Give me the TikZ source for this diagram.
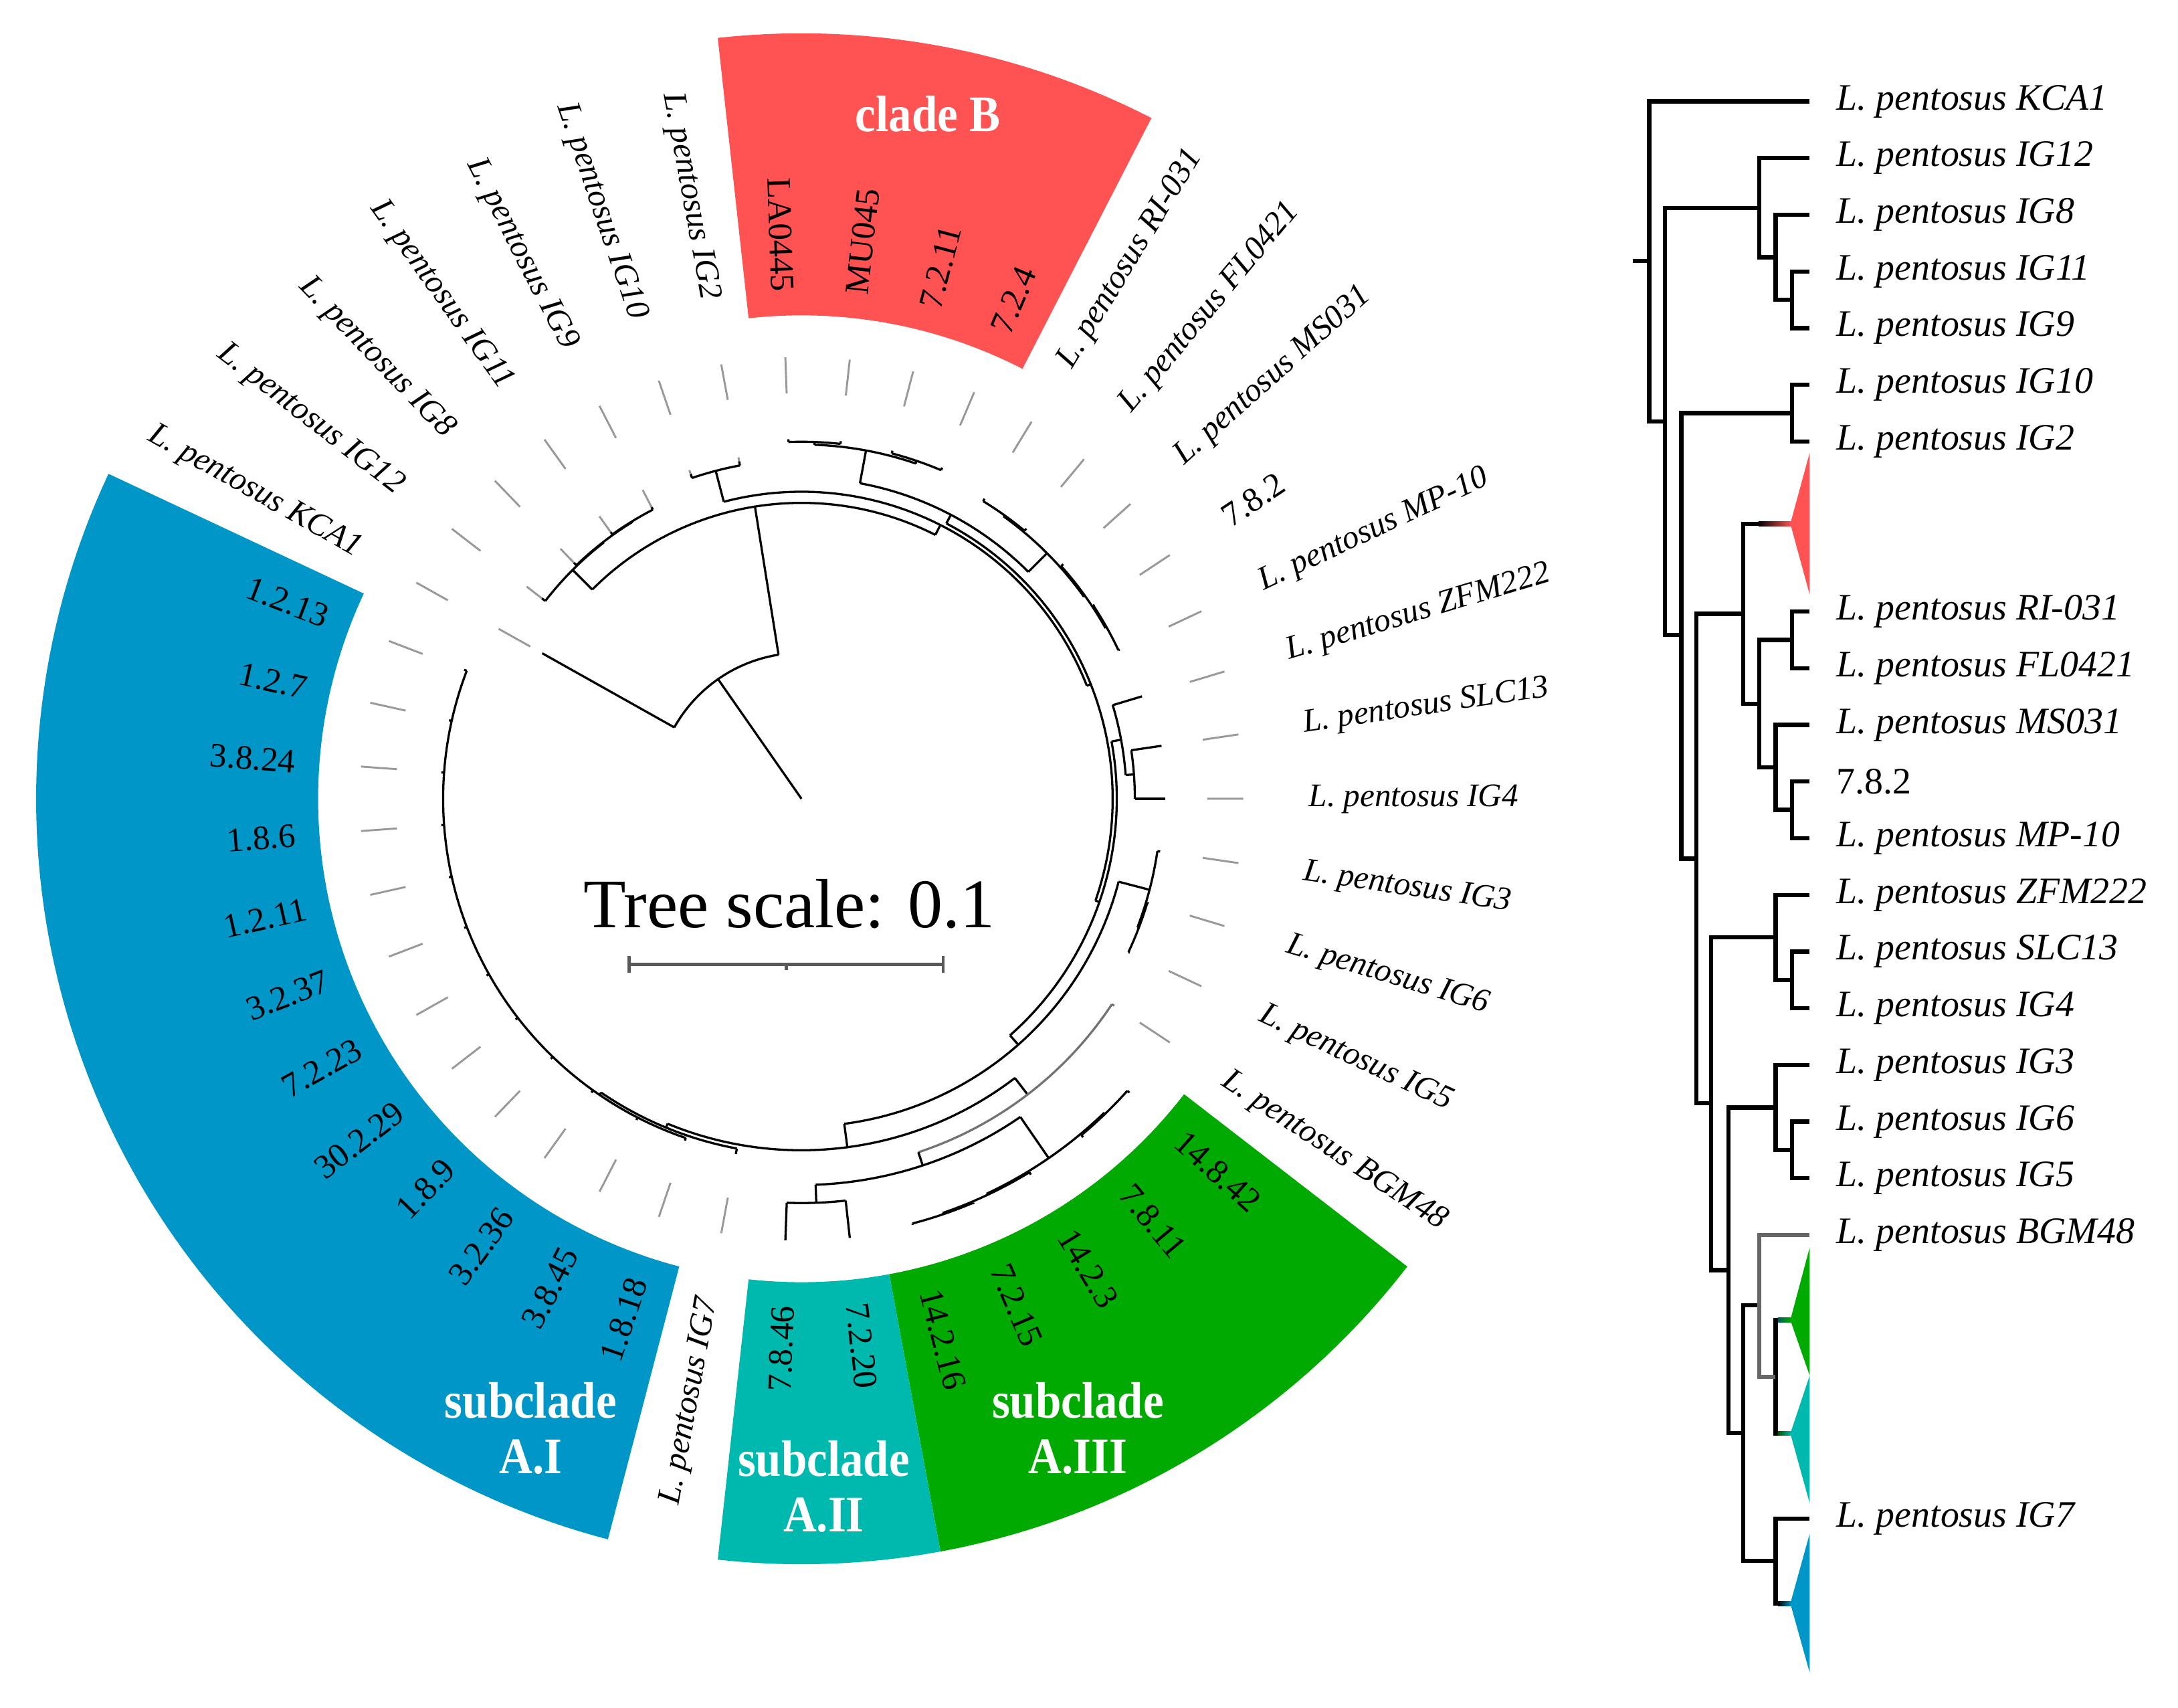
\documentclass[tikz,border=0pt]{standalone}
\usepackage{fontspec}
\setmainfont{Liberation Serif}
\usepackage{graphicx}
\usetikzlibrary{positioning}
\definecolor{cladeBred}{RGB}{255, 82, 82}
\definecolor{subAIblue}{RGB}{0, 150, 199}
\definecolor{subAIIteal}{RGB}{0, 185, 174}
\definecolor{subAIIIgreen}{RGB}{0, 170, 0}

% polar helpers: angle, r from, r to / start angle, end angle, radius
\newcommand{\trbr}[4][branch]{\draw[#1] (#2:#3) -- (#2:#4);}
\newcommand{\trarc}[4][branch]{\draw[#1] (#2:#4) arc[start angle=#2, end angle=#3, radius=#4];}
\newcommand{\band}[3]{\fill[#1] (#2:348) arc[start angle=#2, end angle=#3, radius=348] -- (#3:551) arc[start angle=#3, end angle=#2, radius=551] -- cycle;}
\newcommand{\sqz}[1]{\scalebox{0.9}[1]{#1}}

\begin{document}
\begin{tikzpicture}[
    x=0.2mm, y=0.2mm,
    branch/.style={line width=0.9pt, black},
    greybranch/.style={line width=0.9pt, black!55},
    leafdash/.style={line width=0.8pt, black!40, dash pattern=on 5.2mm off 8.4mm},
    clad/.style={line width=1.7pt, black},
    greyclad/.style={line width=1.7pt, black!60},
    ringlab/.style={inner sep=0pt, font=\fontsize{13.5}{16}\selectfont\itshape},
    numlab/.style={inner sep=0pt, font=\fontsize{14}{16}\selectfont},
    bandlab/.style={align=center, text=white, inner sep=0pt, font=\fontsize{21}{22.7}\selectfont\bfseries},
    tiplab/.style={anchor=west, inner sep=0pt, font=\fontsize{15.3}{18}\selectfont\itshape},
    scalebar/.style={line width=1.2pt, black!65}
]
\useasboundingbox (0,0) rectangle (1568,1229);

% ---- circular tree ----
\begin{scope}[shift={(577,654)}]
    \band{cladeBred}{96.28}{62.79}
    \band{subAIIIgreen}{-37.67}{-79.54}
    \band{subAIIteal}{-79.54}{-96.28}
    \band{subAIblue}{-104.65}{-205.12}

    % leaf guides
    \foreach \m/\rl in {0/214,1/236,2/236,3/236,4/236,5/247,6/247,7/259,8/259,9/259,10/259,11/253,12/253,13/253,14/253,15/253,16/256,17/262,18/262,19/261,20/261,21/261,22/270,30/260,31/260,32/260,33/260,34/260,35/260,36/260,37/260,38/260,39/260,40/260,41/260,42/260}{
        \pgfmathsetmacro\ang{150.70-8.3721*\m}
        \draw[leafdash] (\ang:318) -- (\ang:\rl);
    }

    % root, KCA1 and N1
    \trbr{124.9}{0}{105}
    \trarc{150.70}{99.05}{105}
    \trbr{150.70}{105}{214}
    \trbr{99.05}{105}{213}
    \trarc{135.0}{63.1}{213}
    % IG12 .. IG9
    \trbr{135.0}{213}{233}
    \trarc{142.33}{127.67}{233}
    \trbr{142.33}{233}{236}
    \trarc{133.95}{121.40}{233.5}
    \trbr{133.95}{233.5}{236}
    \trbr{121.40}{233.5}{234}
    \trarc{125.58}{117.21}{234}
    \trbr{125.58}{234}{236}
    \trbr{117.21}{234}{236}
    % IG10, IG2
    \trbr{63.1}{213}{221}
    \trarc{104.66}{21.6}{221}
    \trbr{104.66}{221}{244}
    \trarc{108.84}{100.47}{244}
    \trbr{108.84}{244}{247}
    \trbr{100.47}{244}{247}
    % clade B and RI-031 .. MP-10
    \trbr{21.6}{221}{224}
    \trarc{62.25}{-19.1}{224}
    \trbr{62.25}{224}{231}
    \trarc{79.5}{45.0}{231}
    \trbr{79.5}{231}{255}
    \trarc{87.9}{71.17}{255}
    \trbr{87.9}{255}{257}
    \trarc{92.09}{83.72}{257}
    \trbr{92.09}{257}{259}
    \trbr{83.72}{257}{259}
    \trbr{71.17}{255}{257}
    \trarc{75.35}{66.98}{257}
    \trbr{75.35}{257}{259}
    \trbr{66.98}{257}{259}
    \trbr{45.0}{231}{250}
    \trarc{54.42}{35.58}{250}
    \trbr{54.42}{250}{251}
    \trarc{58.60}{50.23}{251}
    \trbr{58.60}{251}{253}
    \trbr{50.23}{251}{253}
    \trbr{35.58}{250}{251}
    \trarc{41.86}{29.30}{251}
    \trbr{41.86}{251}{253}
    \trbr{29.30}{251}{252}
    \trarc{33.49}{25.12}{252}
    \trbr{33.49}{252}{253}
    \trbr{25.12}{252}{253}
    % ZFM222, SLC13, IG4
    \trbr{-19.1}{224}{227}
    \trarc{10.47}{-48.6}{227}
    \trbr{10.47}{227}{234}
    \trarc{16.74}{4.19}{234}
    \trbr{16.74}{234}{256}
    \trbr{4.19}{234}{240}
    \trarc{8.37}{0}{240}
    \trbr{8.37}{240}{262}
    \trbr{0}{240}{262}
    % IG3, IG6, IG5
    \trbr{-48.6}{227}{236}
    \trarc{-14.65}{-82.5}{236}
    \trbr{-14.65}{236}{259}
    \trarc{-8.37}{-20.93}{259}
    \trbr{-8.37}{259}{261}
    \trbr{-20.93}{259}{260}
    \trarc{-16.74}{-25.12}{260}
    \trbr{-16.74}{260}{261}
    \trbr{-25.12}{260}{261}
    % BGM48 and subclades A.III, A.II
    \trbr{-82.5}{236}{253}
    \trarc{-52.6}{-112.4}{253}
    \trbr{-52.6}{253}{268}
    \trarc[greybranch]{-33.49}{-71.7}{268}
    \trbr[greybranch]{-33.49}{268}{270}
    \trbr{-71.7}{268}{278}
    \trarc{-55.47}{-87.9}{278}
    \trbr{-55.47}{278}{314}
    \trarc{-46.05}{-64.88}{314}
    \trbr{-46.05}{314}{315}
    \trarc{-41.86}{-50.23}{315}
    \trbr{-41.86}{315}{317}
    \trbr{-50.23}{315}{317}
    \trbr{-64.88}{314}{315}
    \trarc{-58.60}{-71.17}{315}
    \trbr{-58.60}{315}{317}
    \trbr{-71.17}{315}{316}
    \trarc{-66.98}{-75.35}{316}
    \trbr{-66.98}{316}{317}
    \trbr{-75.35}{316}{317}
    \trbr{-87.9}{278}{291}
    \trarc{-83.72}{-92.09}{291}
    \trbr{-83.72}{291}{318}
    \trbr{-92.09}{291}{318}
    % IG7 and subclade A.I
    \trbr{-112.4}{253}{256}
    \trarc{-100.47}{-124.3}{256}
    \trbr{-100.47}{256}{260}
    \trbr{-124.3}{256}{258}
    \trarc{-108.84}{-200.93}{258}
    \foreach \m in {31,...,42}{
        \pgfmathsetmacro\ang{150.70-8.3721*\m}
        \trbr{\ang}{258}{260}
    }

    % strain names round the ring
    \foreach \m/\txt in {0/KCA1,1/IG12,2/IG8,3/IG11,4/IG9,5/IG10,6/IG2,11/RI-031,12/FL0421,13/MS031,15/MP-10,16/ZFM222,17/SLC13,18/IG4,19/IG3,20/IG6,21/IG5,22/BGM48,30/IG7}{
        \pgfmathsetmacro\ang{150.70-8.3721*\m}
        \pgfmathtruncatemacro\flip{abs(\ang)>90}
        \pgfmathsetmacro\rot{\ang+180*\flip}
        \ifnum\flip=1 \def\anc{east}\else\def\anc{west}\fi
        \node[ringlab, anchor=\anc, rotate=\rot] (c\m) at (\ang:365) {L. pentosus \txt};
    }
    \foreach \m/\txt in {7/LA0445,8/MU045,9/7.2.11,10/7.2.4,14/7.8.2,23/14.8.42,24/7.8.11,25/14.2.3,26/7.2.15,27/14.2.16,28/7.2.20,29/7.8.46,31/1.8.18,32/3.8.45,33/3.2.36,34/1.8.9,35/30.2.29,36/7.2.23,37/3.2.37,38/1.2.11,39/1.8.6,40/3.8.24,41/1.2.7,42/1.2.13}{
        \pgfmathsetmacro\ang{150.70-8.3721*\m}
        \pgfmathtruncatemacro\flip{abs(\ang)>90}
        \pgfmathsetmacro\rot{\ang+180*\flip}
        \ifnum\flip=1 \def\anc{east}\else\def\anc{west}\fi
        \node[numlab, anchor=\anc, rotate=\rot] (c\m) at (\ang:365) {\txt};
    }

    \node[bandlab] (cladeB) at (91,493) {\sqz{clade B}};
    \node[bandlab] (subAI) at (-195,-453) {\sqz{subclade}\\\sqz{A.I}};
    \node[bandlab] (subAII) at (16,-495) {\sqz{subclade}\\\sqz{A.II}};
    \node[bandlab] (subAIII) at (199,-453) {\sqz{subclade}\\\sqz{A.III}};

    % tree scale
    \node[font=\fontsize{28.5}{30}\selectfont, anchor=base, inner sep=0pt] (tscale) at (-8.7,-92.5) {Tree scale: 0.1};
    \draw[scalebar] (-124,-119.2) -- (102,-119.2);
    \draw[scalebar] (-124,-113) -- (-124,-125.4);
    \draw[scalebar] (102,-113) -- (102,-125.4);
    \draw[scalebar] (-11,-119.2) -- (-11,-123.5);
\end{scope}

% ---- rectangular tree (x in px, y in rows) ----
\begin{scope}[shift={(0,1156)}, y=-8.16mm]
    \coordinate (rstub) at (1175.3,2.81);
    \coordinate (rt) at (1187.3,2.81);
    \coordinate (n1) at (1198.5,5.65);
    \coordinate (n2) at (1266.6,1.88);
    \coordinate (n2a) at (1278.3,2.75);
    \coordinate (n2b) at (1290.3,3.5);
    \coordinate (n3) at (1210.4,9.41);
    \coordinate (n3a) at (1290.3,5.5);
    \coordinate (n4) at (1221.3,13.36);
    \coordinate (n5) at (1254.9,9.04);
    \coordinate (cbB) at (1288.9,7.45);
    \coordinate (n6) at (1266.6,10.63);
    \coordinate (n6a) at (1290.3,9.5);
    \coordinate (n6b) at (1278.3,11.75);
    \coordinate (n6c) at (1290.3,12.5);
    \coordinate (n7) at (1231.8,17.67);
    \coordinate (n8) at (1278.3,14.75);
    \coordinate (n8a) at (1290.3,15.5);
    \coordinate (n9) at (1244.3,20.62);
    \coordinate (n10) at (1278.3,17.75);
    \coordinate (n10a) at (1290.3,18.5);
    \coordinate (n11) at (1254.9,23.49);
    \coordinate (n12) at (1266.6,21.24);
    \coordinate (n13) at (1278.3,22.5);
    \coordinate (gnT) at (1288.9,21.5);
    \coordinate (tlT) at (1288.9,23.5);
    \coordinate (n14) at (1278.3,25.75);
    \coordinate (blT) at (1288.9,26.5);
    \foreach \k in {0,1,2,3,4,5,6,9,10,11,12,13,14,15,16,17,18,19,20,25}
        {\coordinate (e\k) at (1302.8,\k);}

    \fill[cladeBred] (cbB) -- (1302.8,6.2) -- (1302.8,8.7) -- cycle;
    \fill[subAIIIgreen] (gnT) -- (1302.8,20.22) -- (1302.8,22.48) -- cycle;
    \fill[subAIIteal] (tlT) -- (1302.8,22.48) -- (1302.8,24.73) -- cycle;
    \fill[subAIblue] (blT) -- (1302.8,25.27) -- (1302.8,27.72) -- cycle;

    \draw[clad] (rstub) -- (rt);
    \foreach \p/\c in {rt/e0, rt/n1, n1/n2, n1/n3, n2/e1, n2/n2a, n2a/e2, n2a/n2b, n2b/e3, n2b/e4,
        n3/n3a, n3/n4, n3a/e5, n3a/e6, n4/n5, n4/n7, n5/cbB, n5/n6, n6/n6a, n6/n6b, n6a/e9, n6a/e10,
        n6b/e11, n6b/n6c, n6c/e12, n6c/e13, n7/n8, n7/n9, n8/e14, n8/n8a, n8a/e15, n8a/e16,
        n9/n10, n9/n11, n10/e17, n10/n10a, n10a/e18, n10a/e19, n11/n12, n11/n14,
        n13/gnT, n13/tlT, n14/e25, n14/blT}
        {\draw[clad] (\p) |- (\c);}
    \draw[greyclad] (n12) |- (e20);
    \draw[greyclad] (n12) |- (n13);
    \shade[left color=black, right color=cladeBred] (1266,7.41) rectangle (1289.5,7.49);
    \shade[left color=subAIIteal!50!black, right color=subAIIIgreen] (1280,21.46) rectangle (1289.5,21.54);
    \shade[left color=subAIIIgreen!50!black, right color=subAIIteal] (1280,23.46) rectangle (1289.5,23.54);
    \shade[left color=black, right color=subAIblue] (1280,26.46) rectangle (1289.5,26.54);

    \foreach \k/\txt in {0/KCA1,1/IG12,2/IG8,3/IG11,4/IG9,5/IG10,6/IG2,9/RI-031,10/FL0421,11/MS031,13/MP-10,14/ZFM222,15/SLC13,16/IG4,17/IG3,18/IG6,19/IG5,20/BGM48,25/IG7}
        {\node[tiplab] (t\k) at (1322,\k) {L. pentosus \txt};}
    \node[tiplab, font=\fontsize{15.3}{18}\selectfont] (t12) at (1322,12) {7.8.2};
\end{scope}
\end{tikzpicture}
\end{document}
